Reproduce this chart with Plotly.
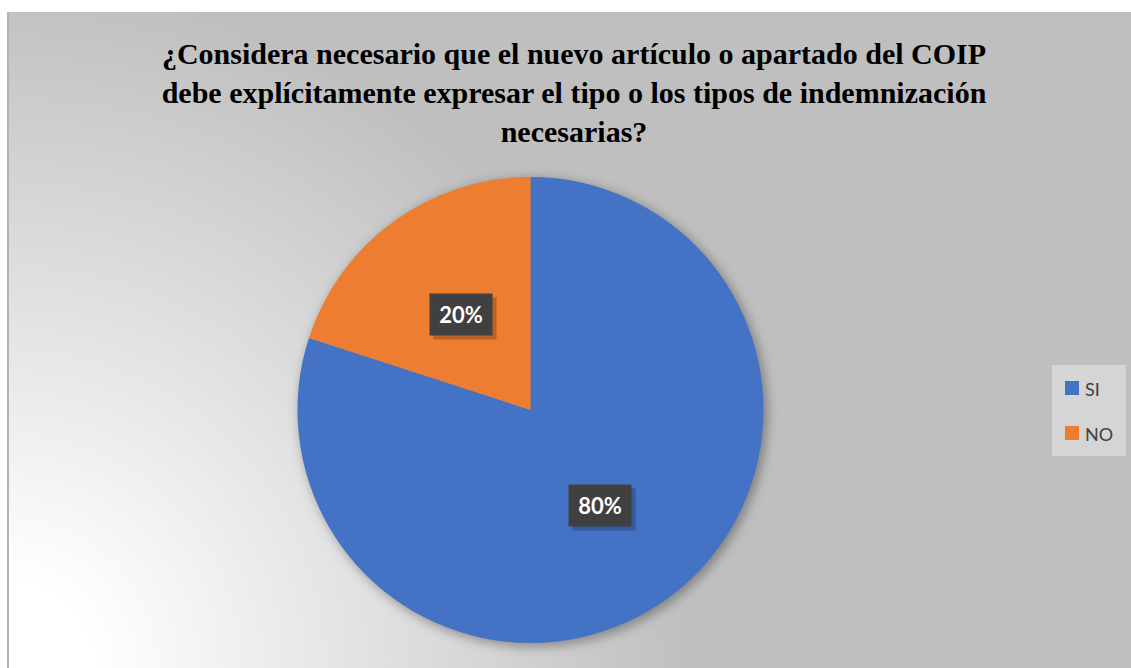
import base64
import math
import plotly.graph_objects as go

# ---- data ----
title_lines = [
    "¿Considera necesario que el nuevo artículo o apartado del COIP",
    "debe explícitamente expresar el tipo o los tipos de indemnización",
    "necesarias?",
]
labels = ["SI", "NO"]
values = [80, 20]
colors = ["#4472C4", "#ED7D31"]

# ---- layout constants (pixels) ----
W, H = 1131, 668
AREA_X0, AREA_Y0 = 7, 12          # chart area top-left (gray background)
PIE_X0, PIE_X1 = 297, 764         # pie domain (pixels)
PIE_Y0, PIE_Y1 = 177, 643
PIE_CX = (PIE_X0 + PIE_X1) / 2
PIE_CY = (PIE_Y0 + PIE_Y1) / 2
PIE_R = (PIE_X1 - PIE_X0) / 2


def px(x):
    return x / W


def py(y):
    return 1 - y / H


# background gradient (white at bottom-left -> gray) + soft pie shadow
aw, ah = W - AREA_X0, H - AREA_Y0
scx, scy = PIE_CX - AREA_X0 + 3, PIE_CY - AREA_Y0 + 3
svg = f"""<svg xmlns='http://www.w3.org/2000/svg' width='{aw}' height='{ah}' viewBox='0 0 {aw} {ah}'>
<defs>
<radialGradient id='g' gradientUnits='userSpaceOnUse' cx='0' cy='{ah}' r='720'>
<stop offset='0.12' stop-color='#ffffff'/>
<stop offset='0.95' stop-color='#bfbfbf'/>
</radialGradient>
<filter id='b' x='-20%' y='-20%' width='140%' height='140%'><feGaussianBlur stdDeviation='6'/></filter>
</defs>
<rect x='0' y='0' width='{aw}' height='{ah}' fill='url(#g)'/>
<circle cx='{scx}' cy='{scy}' r='{PIE_R}' fill='#000' fill-opacity='0.35' filter='url(#b)'/>
</svg>"""
svg_uri = "data:image/svg+xml;base64," + base64.b64encode(svg.encode()).decode()

fig = go.Figure()
fig.add_trace(
    go.Pie(
        labels=labels,
        values=values,
        marker=dict(colors=colors, line=dict(width=0)),
        sort=False,
        direction="clockwise",
        rotation=0,
        textinfo="none",
        hoverinfo="label+percent",
        showlegend=False,
        domain=dict(x=[px(PIE_X0), px(PIE_X1)], y=[py(PIE_Y1), py(PIE_Y0)]),
    )
)

annotations = []
shapes = []

# percentage labels with dark boxes, placed at slice mid-angles
total = sum(values)
cum = 0
for lab, v in zip(labels, values):
    mid = (cum + v / 2) / total * 2 * math.pi
    cum += v
    r = 0.505 * PIE_R
    lx = PIE_CX + r * math.sin(mid)
    ly = PIE_CY - r * math.cos(mid)
    pct = f"{round(v / total * 100)}%"
    # shadow
    annotations.append(dict(
        x=px(lx), y=py(ly), xref="paper", yref="paper", text="",
        xanchor="center", yanchor="middle",
        showarrow=False, width=62, height=41, bgcolor="rgba(0,0,0,0.22)",
        xshift=4, yshift=-4, borderpad=0,
    ))
    annotations.append(dict(
        x=px(lx), y=py(ly), xref="paper", yref="paper", text=f"<b>{pct}</b>",
        xanchor="center", yanchor="middle",
        showarrow=False, width=62, height=41, bgcolor="#404040",
        borderpad=0, font=dict(family="Lato", size=22, color="#ffffff"),
    ))

# legend (box + swatches + labels)
LEG_X0, LEG_X1, LEG_Y0, LEG_Y1 = 1052, 1126, 365, 456
shapes.append(dict(type="rect", xref="paper", yref="paper",
                   x0=px(LEG_X0), x1=px(LEG_X1), y0=py(LEG_Y1), y1=py(LEG_Y0),
                   fillcolor="#d5d5d5", line=dict(width=0), layer="below"))
item_y = [388, 433]
for lab, col, yy in zip(labels, colors, item_y):
    shapes.append(dict(type="rect", xref="paper", yref="paper",
                       x0=px(1065), x1=px(1079), y0=py(yy + 7), y1=py(yy - 7),
                       fillcolor=col, line=dict(width=0)))
    annotations.append(dict(
        x=px(1083), y=py(yy + 1), xref="paper", yref="paper", text=lab,
        xanchor="left", yanchor="middle", showarrow=False,
        font=dict(family="Lato", size=18, color="#404040"),
    ))

# left border of chart area
shapes.append(dict(type="line", xref="paper", yref="paper",
                   x0=px(AREA_X0 + 1), x1=px(AREA_X0 + 1), y0=0, y1=py(AREA_Y0),
                   line=dict(color="#b3b3b3", width=2)))

fig.update_layout(
    width=W,
    height=H,
    margin=dict(l=0, r=0, t=0, b=0),
    paper_bgcolor="#ffffff",
    plot_bgcolor="rgba(0,0,0,0)",
    showlegend=False,
    title=dict(
        text="<b>" + "<br>".join(title_lines) + "</b>",
        x=px(574), xanchor="center",
        y=py(64), yanchor="top", yref="container",
        font=dict(family="Liberation Serif", size=30, color="#000000"),
    ),
    images=[dict(
        source=svg_uri, xref="paper", yref="paper",
        x=px(AREA_X0), y=py(AREA_Y0), sizex=px(W) - px(AREA_X0), sizey=py(AREA_Y0),
        xanchor="left", yanchor="top", sizing="stretch", layer="below",
    )],
    shapes=shapes,
    annotations=annotations,
)

fig.write_html(
    "out.html",
    config={"displayModeBar": False},
    post_script="document.body.style.margin='0';document.body.style.padding='0';",
)
